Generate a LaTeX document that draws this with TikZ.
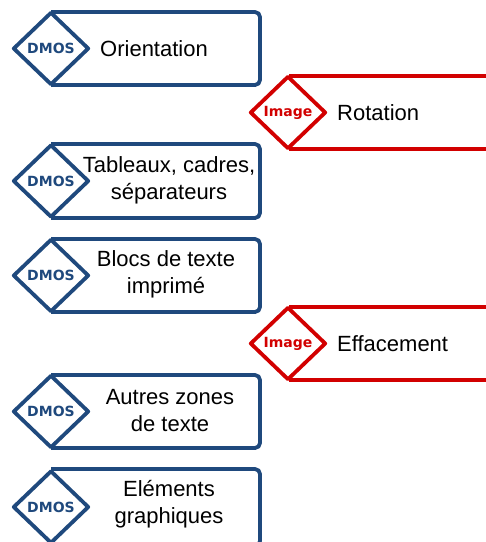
\documentclass[tikz,border=0pt]{standalone}
\usepackage{fontspec}
\setmainfont{Liberation Sans}
\newfontfamily\lblfont{DejaVu Sans}
\usetikzlibrary{shapes.geometric}
\definecolor{dmosblue}{RGB}{31,73,125}
\definecolor{imgred}{RGB}{210,0,0}
\tikzset{
  boxline/.style={line width=3.8pt, rounded corners=5pt, line join=round},
  diam/.style={draw, fill=white, line width=3.8pt, line join=round, shape=diamond, inner sep=0pt, minimum width=76pt, minimum height=73pt},
  tag/.style={font=\lblfont\bfseries\fontsize{14}{16}\selectfont},
  txt/.style={font=\fontsize{22}{27}\selectfont, text=black, inner sep=0pt, align=center},
}
\begin{document}
\begin{tikzpicture}[x=1pt,y=-1pt]
\useasboundingbox (0,0) rectangle (486,542);
\clip (0,0) rectangle (486,542);
% blue boxes
\foreach \t/\b [count=\i] in {12/85, 144/218, 239/312, 375/448, 469/546}{
  \draw[boxline, dmosblue] (51,\t) -- (260,\t) -- (260,\b) -- (51,\b);
}
% red boxes (open to the right)
\foreach \t/\b in {76/149, 307/380}{
  \draw[boxline, imgred] (500,\t) -- (289,\t);
  \draw[boxline, imgred] (500,\b) -- (289,\b);
}
% diamonds
\node[diam, draw=dmosblue, tag, text=dmosblue] (d1) at (51,48.5) {DMOS};
\node[diam, draw=imgred, tag, text=imgred] (r1) at (288,112.5) {Image};
\node[diam, draw=dmosblue, tag, text=dmosblue] (d2) at (51,181) {DMOS};
\node[diam, draw=dmosblue, tag, text=dmosblue] (d3) at (51,275.5) {DMOS};
\node[diam, draw=imgred, tag, text=imgred] (r2) at (288,343.5) {Image};
\node[diam, draw=dmosblue, tag, text=dmosblue] (d4) at (51,411.5) {DMOS};
\node[diam, draw=dmosblue, tag, text=dmosblue] (d5) at (51,507) {DMOS};
% texts
\node[txt, anchor=west] (t1) at (100,48.5) {Orientation};
\node[txt, anchor=west] (t2) at (337,112.5) {Rotation};
\node[txt] (t3) at (169,180) {Tableaux, cadres,\\séparateurs};
\node[txt] (t4) at (166,274) {Blocs de texte\\imprimé};
\node[txt] (t5) at (170,410.5) {Autres zones\\de texte};
\node[txt, anchor=west] (t6) at (337,343.5) {Effacement};
\node[txt] (t7) at (169,504) {Eléments\\graphiques};
\end{tikzpicture}
\end{document}
